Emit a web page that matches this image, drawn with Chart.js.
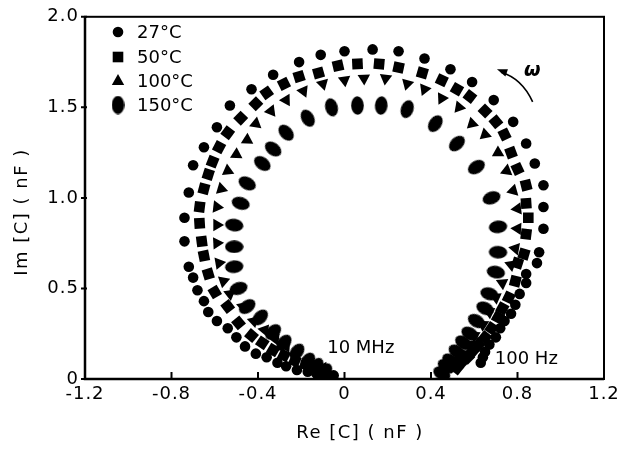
<!DOCTYPE html>
<html>
<head>
<meta charset="utf-8">
<script src="https://cdn.jsdelivr.net/npm/chart.js@4.4.1/dist/chart.umd.min.js"></script>
<style>
  body { margin: 0; background: #fff; }
  canvas { display: block; }
</style>
</head>
<body>
<canvas id="c" width="629" height="457"></canvas>
<script>
// Re / Im of C, from the 10 MHz end round to the 100 Hz end
const re27 = [-0.05,-0.09,-0.13,-0.17,-0.22,-0.27,-0.31,-0.36,-0.41,-0.46,-0.50,-0.54,-0.59,-0.63,-0.65,-0.68,-0.70,-0.72,-0.74,-0.74,-0.72,-0.70,-0.65,-0.59,-0.53,-0.43,-0.33,-0.21,-0.11,0.00,0.13,0.25,0.37,0.49,0.59,0.69,0.78,0.84,0.88,0.92,0.92,0.92,0.90,0.89,0.84,0.84,0.81,0.79,0.77,0.74,0.72,0.70,0.67,0.65,0.64,0.63];
const im27 = [0.02,0.02,0.03,0.04,0.05,0.07,0.09,0.12,0.14,0.18,0.23,0.28,0.32,0.37,0.43,0.49,0.56,0.62,0.76,0.89,1.03,1.18,1.28,1.39,1.51,1.60,1.68,1.75,1.79,1.81,1.82,1.81,1.77,1.71,1.64,1.54,1.42,1.30,1.19,1.07,0.95,0.83,0.70,0.64,0.58,0.53,0.47,0.41,0.36,0.32,0.28,0.23,0.19,0.15,0.12,0.09];

const re50 = [-0.10,-0.14,-0.18,-0.23,-0.28,-0.33,-0.38,-0.43,-0.49,-0.54,-0.60,-0.63,-0.65,-0.66,-0.67,-0.67,-0.65,-0.63,-0.61,-0.58,-0.54,-0.48,-0.41,-0.36,-0.28,-0.21,-0.12,-0.03,0.06,0.16,0.25,0.36,0.45,0.52,0.58,0.65,0.70,0.74,0.77,0.80,0.84,0.84,0.85,0.84,0.83,0.80,0.79,0.76,0.73,0.71,0.68,0.65,0.62,0.59,0.57,0.54,0.52];
const im50 = [0.04,0.06,0.08,0.10,0.13,0.16,0.20,0.24,0.31,0.40,0.48,0.58,0.68,0.76,0.86,0.95,1.05,1.13,1.20,1.28,1.36,1.44,1.52,1.58,1.63,1.67,1.69,1.73,1.74,1.74,1.72,1.69,1.65,1.60,1.56,1.48,1.42,1.35,1.25,1.16,1.07,0.97,0.89,0.80,0.69,0.64,0.54,0.45,0.39,0.34,0.28,0.23,0.19,0.15,0.12,0.09,0.06];

const re100 = [-0.10,-0.13,-0.17,-0.22,-0.27,-0.32,-0.37,-0.42,-0.47,-0.53,-0.56,-0.58,-0.59,-0.59,-0.59,-0.57,-0.54,-0.50,-0.45,-0.41,-0.34,-0.27,-0.19,-0.10,0.00,0.09,0.19,0.29,0.37,0.45,0.53,0.59,0.65,0.71,0.75,0.78,0.80,0.80,0.79,0.77,0.73,0.70,0.67,0.64,0.60,0.58,0.55,0.52,0.50];
const im100 = [0.06,0.08,0.10,0.14,0.18,0.22,0.27,0.32,0.40,0.47,0.54,0.64,0.75,0.85,0.95,1.05,1.15,1.24,1.32,1.41,1.48,1.54,1.59,1.63,1.65,1.66,1.66,1.63,1.60,1.55,1.50,1.41,1.35,1.25,1.15,1.04,0.94,0.83,0.72,0.63,0.53,0.45,0.37,0.30,0.24,0.19,0.14,0.10,0.07];

const re150 = [-0.09,-0.13,-0.17,-0.22,-0.28,-0.33,-0.39,-0.45,-0.49,-0.51,-0.51,-0.51,-0.48,-0.45,-0.38,-0.33,-0.27,-0.17,-0.06,0.06,0.17,0.29,0.42,0.52,0.61,0.68,0.71,0.71,0.70,0.67,0.65,0.61,0.58,0.55,0.52,0.49,0.47,0.45];
const im150 = [0.04,0.07,0.10,0.15,0.20,0.26,0.34,0.40,0.50,0.62,0.73,0.85,0.97,1.08,1.19,1.27,1.36,1.44,1.50,1.51,1.51,1.49,1.41,1.30,1.17,1.00,0.84,0.70,0.59,0.47,0.39,0.32,0.25,0.20,0.15,0.10,0.07,0.03];

const seriesNames = ['27°C', '50°C', '100°C', '150°C'];
const xTicks = [-1.2, -0.8, -0.4, 0, 0.4, 0.8, 1.2];
const yTicks = [0, 0.5, 1.0, 1.5, 2.0];

const FONT = '"DejaVu Sans", "Liberation Sans", sans-serif';

// filled ellipse used as point style
const ellipse = document.createElement('canvas');
ellipse.width = 13; ellipse.height = 19;
(function () {
  const g = ellipse.getContext('2d');
  g.fillStyle = '#000';
  g.beginPath();
  g.ellipse(6.5, 9.5, 6.3, 9.3, 0, 0, Math.PI * 2);
  g.fill();
})();

function pts(xs, ys) {
  return xs.map((x, i) => ({ x: x, y: ys[i] }));
}

// markers turn with the curve
function along(ctx) {
  if (ctx.type !== 'data') return 0;
  const d = ctx.dataset.data, i = ctx.dataIndex;
  const a = d[Math.max(i - 1, 0)], b = d[Math.min(i + 1, d.length - 1)];
  const sx = ctx.chart.scales.x, sy = ctx.chart.scales.y;
  const tx = sx.getPixelForValue(b.x) - sx.getPixelForValue(a.x);
  const ty = sy.getPixelForValue(b.y) - sy.getPixelForValue(a.y);
  return Math.atan2(ty, tx) * 180 / Math.PI;
}
// triangles point away from the centre of the arc
function outward(ctx) {
  return along(ctx) + 180;
}

const extras = {
  id: 'extras',
  beforeDraw(chart) {
    chart.ctx.letterSpacing = '1px';
  },
  afterDraw(chart) {
    const ctx = chart.ctx, a = chart.chartArea;
    const sx = chart.scales.x, sy = chart.scales.y;
    ctx.save();
    ctx.strokeStyle = '#000';
    ctx.fillStyle = '#000';

    // frame
    ctx.lineWidth = 2;
    ctx.strokeRect(a.left, a.top, a.right - a.left, a.bottom - a.top);
    ctx.lineWidth = 2.5;
    ctx.beginPath();
    ctx.moveTo(a.left, a.top); ctx.lineTo(a.left, a.bottom); ctx.lineTo(a.right, a.bottom);
    ctx.stroke();

    // tick marks
    ctx.lineWidth = 2;
    ctx.beginPath();
    xTicks.forEach(v => {
      const px = sx.getPixelForValue(v);
      ctx.moveTo(px, a.bottom); ctx.lineTo(px, a.bottom - 7);
    });
    yTicks.forEach(v => {
      const py = sy.getPixelForValue(v);
      ctx.moveTo(a.left - 4, py); ctx.lineTo(a.left + 2, py);
    });
    ctx.stroke();

    // legend
    ctx.font = '18px ' + FONT;
    ctx.letterSpacing = '0px';
    ctx.textBaseline = 'middle';
    ctx.textAlign = 'left';
    const lx = 118, ly = [32, 57, 81, 105];
    ctx.beginPath(); ctx.arc(lx, ly[0], 5.3, 0, Math.PI * 2); ctx.fill();
    ctx.fillRect(lx - 5.3, ly[1] - 5.3, 10.6, 10.6);
    ctx.beginPath();
    ctx.moveTo(lx, ly[2] - 7); ctx.lineTo(lx + 6.2, ly[2] + 4); ctx.lineTo(lx - 6.2, ly[2] + 4);
    ctx.closePath(); ctx.fill();
    ctx.drawImage(ellipse, lx - 6.5, ly[3] - 9.5);
    seriesNames.forEach((t, i) => ctx.fillText(t, 137, ly[i] + 1));

    // frequency labels
    ctx.fillText('10 MHz', sx.getPixelForValue(-0.08), sy.getPixelForValue(0.17));
    ctx.fillText('100 Hz', sx.getPixelForValue(0.695), sy.getPixelForValue(0.11));

    // omega arrow
    const x0 = sx.getPixelForValue(0.87), y0 = sy.getPixelForValue(1.53);
    const x1 = sx.getPixelForValue(0.705), y1 = sy.getPixelForValue(1.71);
    const cx = sx.getPixelForValue(0.82), cy = sy.getPixelForValue(1.66);
    ctx.lineWidth = 1.6;
    ctx.beginPath(); ctx.moveTo(x0, y0); ctx.quadraticCurveTo(cx, cy, x1 + 4, y1 + 3); ctx.stroke();
    const ang = Math.atan2(y1 - cy, x1 - cx);
    ctx.beginPath();
    ctx.moveTo(x1, y1);
    ctx.lineTo(x1 - 11 * Math.cos(ang - 0.35), y1 - 11 * Math.sin(ang - 0.35));
    ctx.lineTo(x1 - 11 * Math.cos(ang + 0.35), y1 - 11 * Math.sin(ang + 0.35));
    ctx.closePath(); ctx.fill();
    ctx.font = 'italic bold 19px ' + FONT;
    ctx.fillText('ω', sx.getPixelForValue(0.83), sy.getPixelForValue(1.70));

    // axis titles
    ctx.font = '18px ' + FONT;
    ctx.letterSpacing = '1.5px';
    ctx.textAlign = 'center';
    ctx.fillText('Re [C] ( nF )', 360, 433);
    ctx.translate(22, 212);
    ctx.rotate(-Math.PI / 2);
    ctx.fillText('Im [C] ( nF )', 0, 0);
    ctx.restore();
  }
};

const common = { backgroundColor: '#000', borderWidth: 0, showLine: false };

new Chart(document.getElementById('c'), {
  type: 'scatter',
  data: {
    datasets: [
      Object.assign({ label: seriesNames[0], data: pts(re27, im27), pointStyle: 'circle', pointRadius: 5.3 }, common),
      Object.assign({ label: seriesNames[1], data: pts(re50, im50), pointStyle: 'rect', pointRadius: 7.5, pointRotation: along }, common),
      Object.assign({ label: seriesNames[2], data: pts(re100, im100), pointStyle: 'triangle', pointRadius: 7.2, pointRotation: outward }, common),
      Object.assign({ label: seriesNames[3], data: pts(re150, im150), pointStyle: ellipse, pointRadius: 9, pointRotation: along }, common)
    ]
  },
  options: {
    responsive: false,
    animation: false,
    layout: { padding: { left: 0, right: 25, top: 15, bottom: 0 } },
    plugins: { legend: { display: false }, tooltip: { enabled: false } },
    scales: {
      x: {
        type: 'linear', min: -1.2, max: 1.2,
        afterBuildTicks: s => { s.ticks = xTicks.map(v => ({ value: v })); },
        afterFit: s => { s.height = 78; },
        grid: { display: false, drawTicks: false },
        border: { display: false },
        ticks: {
          color: '#000', padding: 5, font: { family: FONT, size: 18 },
          callback: v => (v === 0 ? '0' : v.toFixed(1))
        }
      },
      y: {
        type: 'linear', min: 0, max: 2.0,
        afterBuildTicks: s => { s.ticks = yTicks.map(v => ({ value: v })); },
        afterFit: s => { s.width = 85; },
        grid: { display: false, drawTicks: false },
        border: { display: false },
        ticks: {
          color: '#000', padding: 6, font: { family: FONT, size: 18 },
          callback: v => (v === 0 ? '0' : v.toFixed(1))
        }
      }
    }
  },
  plugins: [extras]
});
</script>
</body>
</html>
